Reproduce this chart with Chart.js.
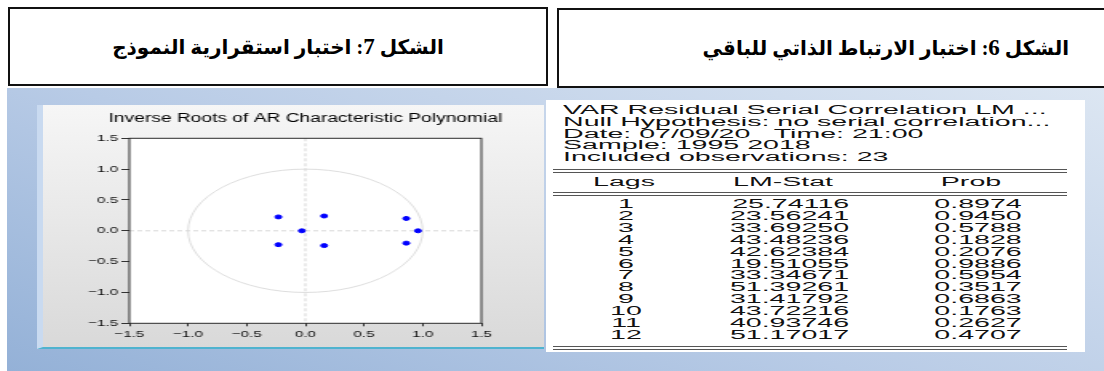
<!DOCTYPE html>
<html>
<head>
<meta charset="utf-8">
<script src="https://cdn.jsdelivr.net/npm/chart.js@4"></script>
<style>
  body { margin: 0; width: 1104px; height: 371px; overflow: hidden; background: #fff; position: relative; font-family: "Liberation Sans", Arial, sans-serif; }
  .cap { position: absolute; box-sizing: border-box; border: 2px solid #111; background: #fff; direction: rtl;
         display: flex; align-items: center; justify-content: center; font: bold 20px "Liberation Serif", "DejaVu Sans"; color: #000; }
  .cap b { font: bold 23px "Liberation Serif"; }
  #cap7 { left: 8px; top: 7px; width: 540px; height: 79px; }
  #cap6 { left: 557px; top: 8px; width: 674px; height: 80px; justify-content: flex-start; padding-right: 160px; }
  #slide { position: absolute; left: 7px; top: 88px; right: 0; bottom: 0;
           background: linear-gradient(20deg, #94b1d7 0%, #b8cbe6 45%, #dce6f2 100%); }
  #panel { position: absolute; left: 37px; top: 105px; width: 507px; height: 244px; box-sizing: border-box;
           background: linear-gradient(#f6f6f6, #d9d9d9); border-left: 6px solid #c9daf0; border-bottom: 2px solid #4fb3cf; }
  #wrap { position: absolute; left: 43px; top: 105px; width: 328px; height: 241px; transform: scaleX(1.6); transform-origin: 0 0; }
  #wrap canvas { display: block; }
  #tbl { position: absolute; left: 546px; top: 100px; width: 539px; height: 252px; background: #fff; }
  .tx { position: absolute; white-space: pre; font-size: 12px; line-height: 14px; color: #111; }
  .rule { position: absolute; left: 553px; width: 514px; height: 1px; background: #555; }
</style>
</head>
<body>
<div class="cap" id="cap7"><span>الشكل <b>7</b>: اختبار استقرارية النموذج</span></div>
<div class="cap" id="cap6"><span>الشكل <b>6</b>: اختبار الارتباط الذاتي للباقي</span></div>
<div id="slide"></div>
<div id="panel"></div>
<div id="wrap"><canvas id="roots" width="328" height="241" style="width:328px;height:241px"></canvas></div>
<div id="tbl"></div>
<script>
// inverse roots (real / imaginary parts)
const rootRe = [-0.23, -0.23, -0.03, 0.16, 0.16, 0.86, 0.86, 0.96];
const rootIm = [0.225, -0.225, 0.0, 0.24, -0.24, 0.20, -0.20, 0.0];
const axisTicks = [-1.5, -1.0, -0.5, 0.0, 0.5, 1.0, 1.5];

// LM test output
const headLines = [
  "VAR Residual Serial Correlation LM ...",
  "Null Hypothesis: no serial correlation...",
  "Date: 07/09/20   Time: 21:00",
  "Sample: 1995 2018",
  "Included observations: 23"
];
const lags = ["1", "2", "3", "4", "5", "6", "7", "8", "9", "10", "11", "12"];
const lmStat = ["25.74116", "23.56241", "33.69250", "43.48236", "42.62384", "19.51055",
                "33.34671", "51.39261", "31.41792", "43.72216", "40.93746", "51.17017"];
const prob = ["0.8974", "0.9450", "0.5788", "0.1828", "0.2076", "0.9886",
              "0.5954", "0.3517", "0.6863", "0.1763", "0.2627", "0.4707"];

const fmtTick = (v) => v.toFixed(1).replace("-", "\u2212");

// unit circle, zero lines and frame around the plot
const unitCircle = {
  id: "unitCircle",
  beforeDraw(chart) {
    const { ctx, chartArea: a } = chart;
    ctx.save();
    ctx.fillStyle = "#fff";
    ctx.fillRect(a.left, a.top, a.width, a.height);
    ctx.restore();
  },
  beforeDatasetsDraw(chart) {
    const { ctx, chartArea: a, scales: { x, y } } = chart;
    const cx = x.getPixelForValue(0), cy = y.getPixelForValue(0);
    ctx.save();
    ctx.strokeStyle = "#cdcdcd";
    ctx.lineWidth = 0.8;
    ctx.setLineDash([3, 2]);
    ctx.beginPath();
    ctx.moveTo(a.left, cy); ctx.lineTo(a.right, cy);
    ctx.moveTo(cx, a.top); ctx.lineTo(cx, a.bottom);
    ctx.stroke();
    ctx.setLineDash([]);
    ctx.strokeStyle = "#d6d6d6";
    ctx.beginPath();
    ctx.ellipse(cx, cy, x.getPixelForValue(1) - cx, cy - y.getPixelForValue(1), 0, 0, Math.PI * 2);
    ctx.stroke();
    ctx.strokeStyle = "#2b2b2b";
    ctx.lineWidth = 1;
    ctx.strokeRect(a.left, a.top, a.width, a.height);
    ctx.restore();
  }
};

const tickFont = { family: "'Liberation Sans', Arial, sans-serif", size: 9.5 };

new Chart(document.getElementById("roots"), {
  type: "scatter",
  data: {
    datasets: [{
      data: rootRe.map((re, i) => ({ x: re, y: rootIm[i] })),
      backgroundColor: "#0000ff",
      borderColor: "#0000ff",
      pointRadius: 2,
      pointHoverRadius: 2
    }]
  },
  options: {
    responsive: false,
    animation: false,
    devicePixelRatio: 1,
    layout: { padding: { left: 4, right: 4, top: 0, bottom: 0 } },
    plugins: {
      legend: { display: false },
      tooltip: { enabled: false },
      title: {
        display: true,
        text: "Inverse Roots of AR Characteristic Polynomial",
        color: "#000",
        font: { family: "'Liberation Sans', Arial, sans-serif", size: 12, weight: "normal", lineHeight: 1.2 },
        padding: { top: 6.4, bottom: 12.5 }
      }
    },
    scales: {
      x: {
        type: "linear",
        min: -1.5,
        max: 1.5,
        afterBuildTicks: (s) => { s.ticks = axisTicks.map((v) => ({ value: v })); },
        afterFit: (s) => { s.height = 22.7; },
        ticks: { color: "#111", font: tickFont, padding: 2, maxRotation: 0, callback: fmtTick },
        grid: { drawOnChartArea: false, tickLength: 3, tickColor: "#333", tickWidth: 1 },
        border: { display: false }
      },
      y: {
        type: "linear",
        min: -1.5,
        max: 1.5,
        afterBuildTicks: (s) => { s.ticks = axisTicks.map((v) => ({ value: v })); },
        afterFit: (s) => { s.width = 50; },
        ticks: { color: "#111", font: tickFont, padding: 2, callback: fmtTick },
        grid: { drawOnChartArea: false, tickLength: 5, tickColor: "#333", tickWidth: 1 },
        border: { display: false }
      },
      // empty right-hand axis, same width as the left one, keeps the title centred over the plot
      yPad: {
        type: "linear",
        position: "right",
        min: -1.5,
        max: 1.5,
        afterFit: (s) => { s.width = 50; },
        ticks: { display: false },
        grid: { display: false },
        border: { display: false }
      }
    }
  },
  plugins: [unitCircle]
});

// residual serial correlation table
const SX = 2.38;
const body = document.body;
function put(text, x, y, align) {
  const d = document.createElement("div");
  d.className = "tx";
  d.textContent = text;
  d.style.top = (y - 7) + "px";
  if (align === "left") {
    d.style.left = x + "px";
    d.style.transformOrigin = "left center";
    d.style.transform = `scaleX(${SX})`;
  } else if (align === "right") {
    d.style.right = (1104 - x) + "px";
    d.style.transformOrigin = "right center";
    d.style.transform = `scaleX(${SX})`;
  } else {
    d.style.left = x + "px";
    d.style.transformOrigin = "center center";
    d.style.transform = `translateX(-50%) scaleX(${SX})`;
  }
  body.appendChild(d);
}
function rule(y) {
  const r = document.createElement("div");
  r.className = "rule";
  r.style.top = y + "px";
  body.appendChild(r);
}

headLines.forEach((t, i) => put(t, 563, 110 + i * 11.8, "left"));
[169, 171.5, 192, 194.5, 345.5, 348.5].forEach(rule);
put("Lags", 624, 182.3, "center");
put("LM-Stat", 783, 182.3, "center");
put("Prob", 971, 182.3, "center");
lags.forEach((l, i) => {
  const y = 204 + i * 11.9;
  put(l, 626, y, "center");
  put(lmStat[i], 849, y, "right");
  put(prob[i], 1022, y, "right");
});
</script>
</body>
</html>
